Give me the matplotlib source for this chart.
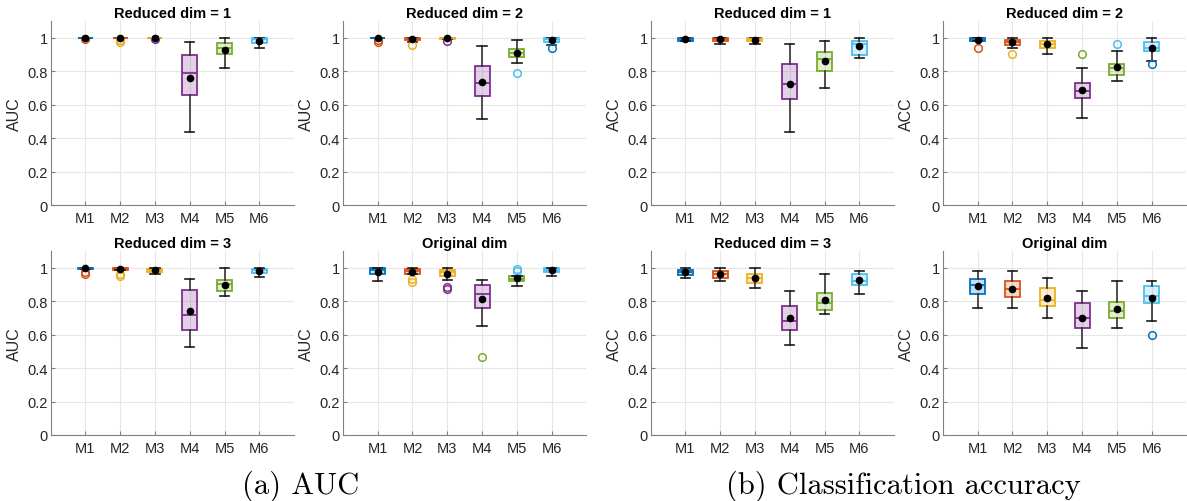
import matplotlib
matplotlib.use('Agg')
import matplotlib.pyplot as plt
from matplotlib.colors import to_rgba

methods = ['M1', 'M2', 'M3', 'M4', 'M5', 'M6']
colors = ['#0072BD', '#D95319', '#EDB120', '#7E2F8E', '#77AC30', '#4DBEEE']
yticks = [0, 0.2, 0.4, 0.6, 0.8, 1.0]
yticklabels = ['0', '0.2', '0.4', '0.6', '0.8', '1']

# ---- AUC, reduced dim = 1
auc_r1_lo = [0.997, 0.997, 0.997, 0.437, 0.818, 0.940]
auc_r1_q1 = [0.997, 0.997, 0.997, 0.659, 0.900, 0.966]
auc_r1_med = [1.0, 1.0, 1.0, 0.788, 0.940, 0.992]
auc_r1_q3 = [1.0, 1.0, 1.0, 0.896, 0.968, 1.0]
auc_r1_hi = [1.0, 1.0, 1.0, 0.972, 0.998, 1.0]
auc_r1_mean = [0.998, 0.999, 0.998, 0.762, 0.928, 0.980]
auc_r1_out = [[0.992], [0.985, 0.972], [0.993], [], [], []]

# ---- AUC, reduced dim = 2
auc_r2_lo = [0.997, 0.975, 0.990, 0.513, 0.848, 0.956]
auc_r2_q1 = [0.997, 0.984, 0.992, 0.651, 0.882, 0.974]
auc_r2_med = [1.0, 0.992, 1.0, 0.731, 0.908, 0.990]
auc_r2_q3 = [1.0, 1.0, 1.0, 0.832, 0.932, 1.0]
auc_r2_hi = [1.0, 1.0, 1.0, 0.950, 0.988, 1.0]
auc_r2_mean = [0.999, 0.992, 0.998, 0.733, 0.906, 0.984]
auc_r2_out = [[0.984, 0.974], [0.958], [0.978], [], [0.792], [0.938]]

# ---- AUC, reduced dim = 3
auc_r3_lo = [0.992, 0.984, 0.962, 0.529, 0.830, 0.946]
auc_r3_q1 = [0.992, 0.984, 0.972, 0.625, 0.860, 0.970]
auc_r3_med = [1.0, 0.996, 0.988, 0.717, 0.902, 0.985]
auc_r3_q3 = [1.0, 1.0, 0.994, 0.864, 0.924, 0.992]
auc_r3_hi = [1.0, 1.0, 1.0, 0.932, 0.998, 1.0]
auc_r3_mean = [0.997, 0.992, 0.984, 0.741, 0.898, 0.980]
auc_r3_out = [[0.976, 0.962], [0.962, 0.948], [], [], [], []]

# ---- AUC, original dim
auc_o_lo = [0.920, 0.964, 0.928, 0.653, 0.892, 0.952]
auc_o_q1 = [0.960, 0.964, 0.948, 0.758, 0.922, 0.972]
auc_o_med = [0.984, 0.980, 0.972, 0.840, 0.934, 0.988]
auc_o_q3 = [1.0, 0.992, 0.986, 0.898, 0.950, 0.998]
auc_o_hi = [1.0, 1.0, 1.0, 0.924, 0.950, 1.0]
auc_o_mean = [0.974, 0.972, 0.962, 0.816, 0.940, 0.984]
auc_o_out = [[], [0.932, 0.912], [0.884, 0.872], [0.465], [0.994, 0.980], []]

# ---- ACC, reduced dim = 1
acc_r1_lo = [0.980, 0.960, 0.960, 0.439, 0.699, 0.878]
acc_r1_q1 = [0.980, 0.978, 0.978, 0.631, 0.800, 0.898]
acc_r1_med = [0.990, 0.990, 0.990, 0.722, 0.874, 0.960]
acc_r1_q3 = [1.0, 1.0, 1.0, 0.840, 0.914, 0.982]
acc_r1_hi = [1.0, 1.0, 1.0, 0.960, 0.980, 1.0]
acc_r1_mean = [0.992, 0.990, 0.988, 0.722, 0.858, 0.948]
acc_r1_out = [[], [], [], [], [], []]

# ---- ACC, reduced dim = 2
acc_r2_lo = [0.980, 0.940, 0.900, 0.521, 0.741, 0.862]
acc_r2_q1 = [0.980, 0.958, 0.940, 0.641, 0.780, 0.920]
acc_r2_med = [0.990, 0.972, 0.960, 0.681, 0.820, 0.940]
acc_r2_q3 = [1.0, 0.984, 0.980, 0.731, 0.840, 0.974]
acc_r2_hi = [1.0, 1.0, 1.0, 0.820, 0.920, 1.0]
acc_r2_mean = [0.986, 0.972, 0.960, 0.689, 0.824, 0.940]
acc_r2_out = [[0.94], [0.90], [], [0.90], [0.96], [0.84]]

# ---- ACC, reduced dim = 3
acc_r3_lo = [0.940, 0.918, 0.880, 0.539, 0.721, 0.840]
acc_r3_q1 = [0.958, 0.938, 0.908, 0.627, 0.749, 0.898]
acc_r3_med = [0.974, 0.960, 0.938, 0.681, 0.788, 0.918]
acc_r3_q3 = [0.988, 0.980, 0.960, 0.770, 0.850, 0.960]
acc_r3_hi = [1.0, 1.0, 1.0, 0.858, 0.960, 0.980]
acc_r3_mean = [0.976, 0.962, 0.938, 0.699, 0.808, 0.924]
acc_r3_out = [[], [], [], [], [], []]

# ---- ACC, original dim
acc_o_lo = [0.758, 0.758, 0.699, 0.519, 0.639, 0.679]
acc_o_q1 = [0.840, 0.826, 0.770, 0.639, 0.697, 0.790]
acc_o_med = [0.898, 0.870, 0.810, 0.699, 0.741, 0.830]
acc_o_q3 = [0.930, 0.920, 0.880, 0.788, 0.798, 0.890]
acc_o_hi = [0.980, 0.980, 0.940, 0.860, 0.920, 0.920]
acc_o_mean = [0.890, 0.870, 0.818, 0.701, 0.754, 0.818]
acc_o_out = [[], [], [], [], [], [0.599]]

panels = [
    ('Reduced dim = 1', 'AUC', auc_r1_lo, auc_r1_q1, auc_r1_med, auc_r1_q3, auc_r1_hi, auc_r1_mean, auc_r1_out),
    ('Reduced dim = 2', 'AUC', auc_r2_lo, auc_r2_q1, auc_r2_med, auc_r2_q3, auc_r2_hi, auc_r2_mean, auc_r2_out),
    ('Reduced dim = 1', 'ACC', acc_r1_lo, acc_r1_q1, acc_r1_med, acc_r1_q3, acc_r1_hi, acc_r1_mean, acc_r1_out),
    ('Reduced dim = 2', 'ACC', acc_r2_lo, acc_r2_q1, acc_r2_med, acc_r2_q3, acc_r2_hi, acc_r2_mean, acc_r2_out),
    ('Reduced dim = 3', 'AUC', auc_r3_lo, auc_r3_q1, auc_r3_med, auc_r3_q3, auc_r3_hi, auc_r3_mean, auc_r3_out),
    ('Original dim', 'AUC', auc_o_lo, auc_o_q1, auc_o_med, auc_o_q3, auc_o_hi, auc_o_mean, auc_o_out),
    ('Reduced dim = 3', 'ACC', acc_r3_lo, acc_r3_q1, acc_r3_med, acc_r3_q3, acc_r3_hi, acc_r3_mean, acc_r3_out),
    ('Original dim', 'ACC', acc_o_lo, acc_o_q1, acc_o_med, acc_o_q3, acc_o_hi, acc_o_mean, acc_o_out),
]

plt.rcParams['font.family'] = ['Liberation Sans', 'DejaVu Sans']
W, H = 1187, 502
fig = plt.figure(figsize=(W / 100, H / 100), dpi=100)

col_left = [50.6, 342.9, 650.6, 942.9]
ax_w = 243.5
row_bottom = [206, 436]
ax_h = 184

text_col = '#262626'
spine_col = '#808080'

for i, (title, ylabel, lo, q1, med, q3, hi, mean, out) in enumerate(panels):
    r, c = divmod(i, 4)
    ax = fig.add_axes([col_left[c] / W, 1 - row_bottom[r] / H, ax_w / W, ax_h / H])
    stats = []
    for j in range(len(methods)):
        stats.append(dict(label=methods[j], whislo=lo[j], q1=q1[j], med=med[j],
                          q3=q3[j], whishi=hi[j], mean=mean[j], fliers=out[j]))
    pos = list(range(1, len(methods) + 1))
    res = ax.bxp(stats, positions=pos, widths=0.43, capwidths=0.27,
                 patch_artist=True, showmeans=True, showfliers=True,
                 whiskerprops=dict(color='#333333', lw=1.2),
                 capprops=dict(color='#1a1a1a', lw=1.2),
                 meanprops=dict(marker='o', markerfacecolor='black',
                                markeredgecolor='black', markersize=4.5),
                 flierprops=dict(marker='o', markerfacecolor='none',
                                 markersize=5.5, markeredgewidth=1.1),
                 zorder=3)
    for j in range(len(methods)):
        col = colors[j]
        box = res['boxes'][j]
        box.set_facecolor(to_rgba(col, 0.22))
        box.set_edgecolor(col)
        box.set_linewidth(1.3)
        res['medians'][j].set_color(col)
        res['medians'][j].set_linewidth(1.3)
        res['fliers'][j].set_markeredgecolor(colors[(j + 1) % len(colors)])
        res['means'][j].set_zorder(6)
    ax.set_xlim(0, 7)
    ax.set_ylim(0, 1.1)
    ax.set_xticks(pos)
    ax.set_xticklabels(methods)
    ax.set_yticks(yticks)
    ax.set_yticklabels(yticklabels)
    ax.grid(True, color='#e6e6e6', lw=0.8, zorder=0)
    ax.set_axisbelow(True)
    for s in ['top', 'right']:
        ax.spines[s].set_visible(False)
    for s in ['left', 'bottom']:
        ax.spines[s].set_color(spine_col)
        ax.spines[s].set_linewidth(0.8)
    ax.tick_params(axis='both', direction='in', length=3, color=spine_col,
                   labelsize=10.5, labelcolor=text_col, width=0.8)
    ax.tick_params(axis='x', pad=4)
    ax.tick_params(axis='y', pad=2)
    ax.set_ylabel(ylabel, fontsize=11.5, color=text_col, labelpad=4)
    ax.set_title(title, fontsize=10.5, fontweight='bold', color='black', pad=3)

fig.text(301 / W, 1 - 494 / H, '(a) AUC', family='cmr10', fontsize=22,
         ha='center', va='baseline', color='black')
fig.text(903 / W, 1 - 494 / H, '(b) Classification accuracy', family='cmr10',
         fontsize=22, ha='center', va='baseline', color='black')

fig.savefig('out.png', dpi=100)
